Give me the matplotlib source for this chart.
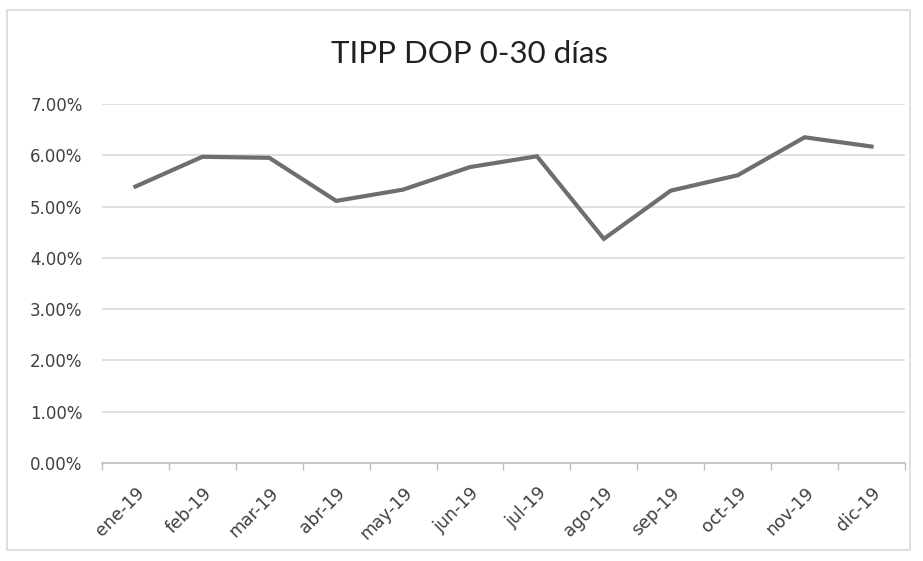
import matplotlib.pyplot as plt
from matplotlib.patches import Rectangle
from matplotlib.ticker import FuncFormatter, MultipleLocator, FixedLocator

# data
meses = ["ene-19", "feb-19", "mar-19", "abr-19", "may-19", "jun-19",
         "jul-19", "ago-19", "sep-19", "oct-19", "nov-19", "dic-19"]
tasa = [0.0539, 0.0597, 0.0595, 0.0511, 0.0533, 0.0577,
        0.0598, 0.0437, 0.0531, 0.0561, 0.0635, 0.0617]

plt.rcParams["font.family"] = ["DejaVu Sans"]

fig = plt.figure(figsize=(9.23, 5.61), dpi=100)
ax = fig.add_axes([0.1105, 0.1747, 0.87, 0.64])

x = list(range(len(meses)))
ax.plot(x, tasa, color="#6e6e6e", linewidth=3.0, solid_joinstyle="miter")

ax.set_xlim(-0.5, len(meses) - 0.5)
ax.set_ylim(0, 0.07)
ax.yaxis.set_major_locator(MultipleLocator(0.01))
ax.yaxis.set_major_formatter(FuncFormatter(lambda v, p: f"{v*100:.2f}%"))
ax.grid(axis="y", color="#d9d9d9", linewidth=1.2)
ax.set_axisbelow(True)

ax.set_xticks(x)
ax.set_xticklabels(meses, rotation=45, ha="right", va="top", rotation_mode="anchor")
ax.xaxis.set_minor_locator(FixedLocator([i - 0.5 for i in range(len(meses) + 1)]))
ax.tick_params(axis="x", which="major", length=0, pad=15, labelsize=12.5, labelcolor="#404040")
ax.tick_params(axis="x", which="minor", length=5, color="#bfbfbf", width=1)
ax.tick_params(axis="y", length=0, pad=14, labelsize=12, labelcolor="#404040")

for s in ["left", "right", "top"]:
    ax.spines[s].set_visible(False)
ax.spines["bottom"].set_color("#bfbfbf")
ax.spines["bottom"].set_linewidth(1.2)

fig.text(0.5087, 0.888, "TIPP DOP 0-30 días", ha="center", va="baseline",
         fontsize=22.5, color="#202020", family=["Lato", "DejaVu Sans"])

# light chart border like the Excel chart area
fig.patches.append(Rectangle((0.008, 0.02), 0.978, 0.962, transform=fig.transFigure,
                             fill=False, edgecolor="#d9d9d9", linewidth=1.2))

fig.savefig("out.png", dpi=100, facecolor="white")
